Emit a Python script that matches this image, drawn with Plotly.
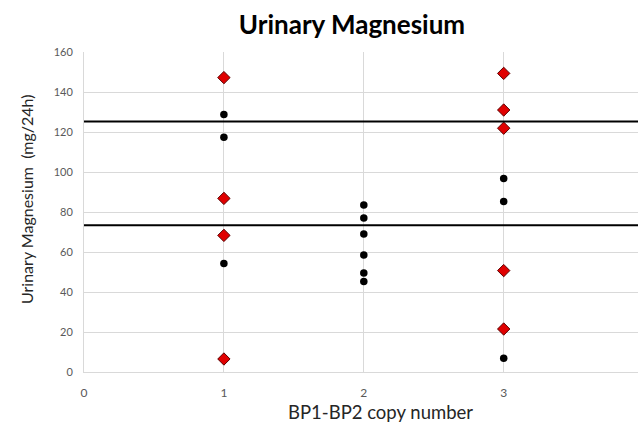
import plotly.graph_objects as go

# Data
red_x = [1, 1, 1, 1, 3, 3, 3, 3, 3]
red_y = [147.2, 86.8, 68.3, 6.5, 149.3, 131.0, 121.9, 50.7, 21.5]

black_x = [1, 1, 1, 2, 2, 2, 2, 2, 2, 3, 3, 3]
black_y = [128.8, 117.4, 54.2, 83.5, 77.0, 69.0, 58.5, 49.5, 45.2, 96.8, 85.2, 6.9]

ref_lines = [125.2, 73.4]

x_ticks = [0, 1, 2, 3, 4]
y_ticks = [0, 20, 40, 60, 80, 100, 120, 140, 160]

FONT = "Lato"
TICK_COLOR = "#595959"
GRID = "#d9d9d9"

fig = go.Figure()

fig.add_trace(go.Scatter(
    x=black_x, y=black_y, mode="markers",
    marker=dict(symbol="circle", size=7.5, color="#000000"),
    showlegend=False, hoverinfo="x+y",
))
fig.add_trace(go.Scatter(
    x=red_x, y=red_y, mode="markers",
    marker=dict(symbol="diamond", size=9.5, color="#e00000",
                line=dict(color="#5a0000", width=1)),
    showlegend=False, hoverinfo="x+y",
))

for v in ref_lines:
    fig.add_shape(type="line", xref="paper", x0=0, x1=1, yref="y", y0=v, y1=v,
                  line=dict(color="#000000", width=2), layer="above")

fig.update_layout(
    width=638, height=428,
    margin=dict(l=84, r=0, t=52, b=56),
    paper_bgcolor="white", plot_bgcolor="white",
    font=dict(family=FONT, color=TICK_COLOR),
    title=dict(text="<b>Urinary Magnesium</b>", x=352 / 638, xanchor="center",
               y=1 - 25 / 428, yanchor="middle",
               font=dict(family=FONT, size=26, color="#000000")),
    xaxis=dict(range=[0, 3.96], tickvals=x_ticks, ticktext=[str(t) for t in x_ticks],
               showgrid=True, gridcolor=GRID, gridwidth=1, zeroline=False,
               showline=True, linecolor=GRID, linewidth=1,
               ticks="", tickfont=dict(family=FONT, size=12, color=TICK_COLOR),
               ticklabelstandoff=10),
    yaxis=dict(range=[0, 160], tickvals=y_ticks, ticktext=[str(t) for t in y_ticks],
               showgrid=True, gridcolor=GRID, gridwidth=1, zeroline=False,
               showline=True, linecolor=GRID, linewidth=1,
               ticks="", tickfont=dict(family=FONT, size=11, color=TICK_COLOR),
               ticklabelstandoff=8),
    annotations=[
        dict(text="BP1-BP2 copy number", xref="paper", yref="paper",
             x=(380 - 84) / 554, y=-(412 - 372) / 320, xanchor="center", yanchor="middle",
             showarrow=False, font=dict(family=FONT, size=18.5, color="#262626")),
        dict(text="Urinary Magnesium  (mg/24h)", xref="paper", yref="paper",
             x=-(84 - 26) / 554, y=(372 - 199) / 320, xanchor="center", yanchor="middle",
             textangle=-90, showarrow=False,
             font=dict(family=FONT, size=16, color="#262626")),
    ],
)

fig.write_html(
    "out.html",
    config={"displayModeBar": False},
    post_script="document.body.style.margin='0';document.body.style.overflow='hidden';",
)
